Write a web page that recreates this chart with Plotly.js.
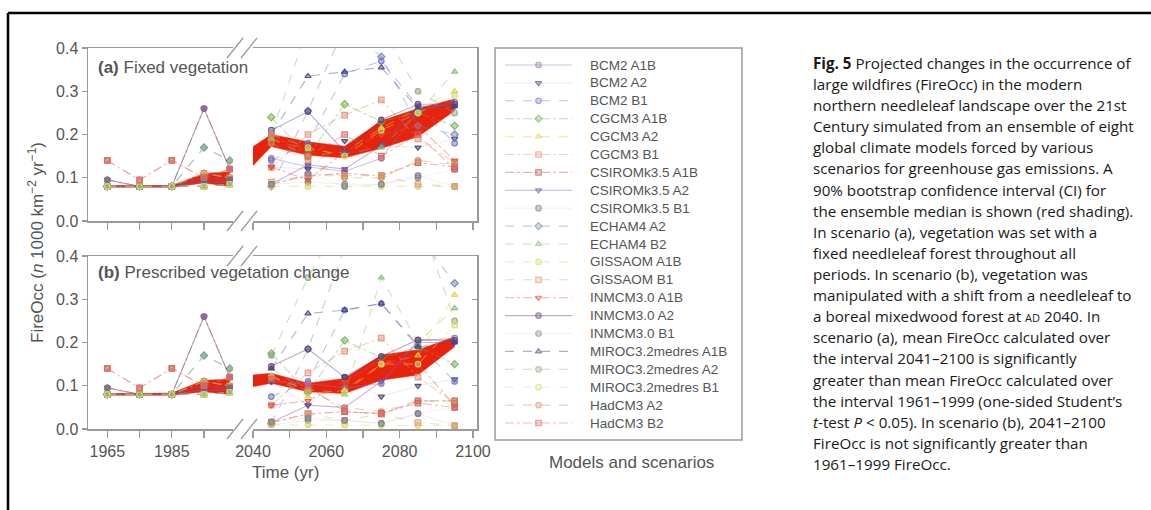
<!DOCTYPE html>
<html><head><meta charset="utf-8">
<script src="https://cdn.plot.ly/plotly-3.0.1.min.js"></script>
<style>html,body{margin:0;padding:0;background:#fff;}#chart{width:1151px;height:510px;}</style>
</head><body><div id="chart"></div>
<script>
// ---------------- DATA ----------------
const seriesNames = ["BCM2 A1B","BCM2 A2","BCM2 B1","CGCM3 A1B","CGCM3 A2","CGCM3 B1",
  "CSIROMk3.5 A1B","CSIROMk3.5 A2","CSIROMk3.5 B1","ECHAM4 A2","ECHAM4 B2",
  "GISSAOM A1B","GISSAOM B1","INMCM3.0 A1B","INMCM3.0 A2","INMCM3.0 B1",
  "MIROC3.2medres A1B","MIROC3.2medres A2","MIROC3.2medres B1","HadCM3 A2","HadCM3 B2"];

const histYears = [1965, 1975, 1985, 1995, 2003];
const futureYears = [2045, 2055, 2065, 2075, 2085, 2095];
const bandFutureYears = [2040, 2045, 2055, 2065, 2075, 2085, 2095];

// 1961-1999 values (same for both vegetation scenarios)
const histValues = [
  [0.080,0.080,0.080,0.090,0.090],
  [0.080,0.080,0.080,0.090,0.090],
  [0.080,0.080,0.080,0.090,0.090],
  [0.080,0.080,0.080,0.110,0.100],
  [0.080,0.080,0.080,0.110,0.100],
  [0.080,0.080,0.080,0.110,0.100],
  [0.080,0.080,0.080,0.100,0.095],
  [0.080,0.080,0.080,0.100,0.095],
  [0.080,0.080,0.080,0.100,0.095],
  [0.080,0.080,0.080,0.170,0.140],
  [0.080,0.080,0.080,0.170,0.140],
  [0.080,0.080,0.080,0.080,0.085],
  [0.080,0.080,0.080,0.080,0.085],
  [0.095,0.080,0.080,0.260,0.120],
  [0.095,0.080,0.080,0.260,0.120],
  [0.095,0.080,0.080,0.260,0.120],
  [0.080,0.080,0.080,0.080,0.085],
  [0.080,0.080,0.080,0.080,0.085],
  [0.080,0.080,0.080,0.080,0.085],
  [0.140,0.095,0.140,0.100,0.120],
  [0.140,0.095,0.140,0.100,0.120]
];

// (a) Fixed vegetation, 2041-2100
const fixedFuture = [
  [0.145,0.125,0.115,0.145,0.255,0.275],
  [0.125,0.120,0.185,0.175,0.170,0.190],
  [0.140,0.180,0.340,0.370,0.265,0.180],
  [0.240,0.150,0.270,0.230,0.250,0.220],
  [0.190,0.150,0.160,0.215,0.260,0.300],
  [0.124,0.200,0.245,0.280,0.190,0.135],
  [0.085,0.105,0.110,0.105,0.135,0.125],
  [0.085,0.130,0.120,0.175,0.265,0.265],
  [0.085,0.090,0.085,0.085,0.105,0.080],
  [0.080,0.255,0.450,0.380,0.220,0.200],
  [0.190,0.165,0.155,0.170,0.250,0.345],
  [0.080,0.080,0.080,0.080,0.080,0.080],
  [0.090,0.105,0.105,0.105,0.085,0.080],
  [0.125,0.095,0.160,0.200,0.220,0.140],
  [0.210,0.253,0.160,0.234,0.270,0.270],
  [0.085,0.110,0.080,0.085,0.100,0.120],
  [0.200,0.335,0.345,0.355,0.260,0.265],
  [0.200,0.450,0.500,0.450,0.300,0.250],
  [0.200,0.170,0.150,0.210,0.250,0.290],
  [0.180,0.140,0.100,0.100,0.140,0.130],
  [0.200,0.150,0.200,0.150,0.200,0.120]
];

// (b) Prescribed vegetation change, 2041-2100
const prescribedFuture = [
  [0.110,0.105,0.095,0.105,0.205,0.210],
  [0.110,0.055,0.120,0.075,0.100,0.115],
  [0.075,0.110,0.275,0.290,0.195,0.110],
  [0.175,0.085,0.205,0.165,0.190,0.150],
  [0.125,0.075,0.090,0.150,0.170,0.310],
  [0.055,0.130,0.180,0.210,0.120,0.060],
  [0.015,0.035,0.040,0.035,0.065,0.065],
  [0.015,0.055,0.050,0.110,0.200,0.200],
  [0.010,0.020,0.020,0.013,0.035,0.008],
  [0.012,0.185,0.420,0.500,0.450,0.337],
  [0.140,0.085,0.080,0.350,0.200,0.279],
  [0.010,0.010,0.009,0.008,0.008,0.008],
  [0.015,0.035,0.020,0.035,0.015,0.008],
  [0.055,0.065,0.110,0.160,0.150,0.055],
  [0.145,0.185,0.120,0.168,0.206,0.205],
  [0.017,0.025,0.020,0.013,0.036,0.050],
  [0.140,0.267,0.275,0.290,0.190,0.200],
  [0.170,0.350,0.500,0.550,0.500,0.250],
  [0.120,0.090,0.085,0.150,0.150,0.240],
  [0.120,0.090,0.050,0.040,0.065,0.065],
  [0.115,0.100,0.040,0.036,0.060,0.050]
];

// 90% bootstrap CI of the ensemble median
const bandHistLoA = [0.078,0.078,0.078,0.088,0.080];
const bandHistHiA = [0.082,0.082,0.082,0.110,0.114];
const bandFutLoA  = [0.128,0.172,0.152,0.146,0.168,0.195,0.255];
const bandFutHiA  = [0.172,0.200,0.183,0.173,0.232,0.260,0.282];
const bandHistLoB = [0.078,0.078,0.078,0.086,0.080];
const bandHistHiB = [0.082,0.082,0.083,0.113,0.115];
const bandFutLoB  = [0.098,0.106,0.086,0.082,0.113,0.125,0.190];
const bandFutHiB  = [0.125,0.129,0.106,0.117,0.171,0.183,0.213];

const histTickVals = [1965, 1985];
const histMinorVals = [1975, 1995];
const futTickVals = [2040, 2060, 2080, 2100];
const futMinorVals = [2050, 2070, 2090];
const yTickVals = [0, 0.1, 0.2, 0.3, 0.4];

const captionLines = [
  "<b>Fig. 5</b> Projected changes in the occurrence of",
  "large wildfires (FireOcc) in the modern",
  "northern needleleaf landscape over the 21st",
  "Century simulated from an ensemble of eight",
  "global climate models forced by various",
  "scenarios for greenhouse gas emissions. A",
  "90% bootstrap confidence interval (CI) for",
  "the ensemble median is shown (red shading).",
  "In scenario (a), vegetation was set with a",
  "fixed needleleaf forest throughout all",
  "periods. In scenario (b), vegetation was",
  "manipulated with a shift from a needleleaf to",
  "a boreal mixedwood forest at <span style=\"font-size:11px\">AD</span> 2040. In",
  "scenario (a), mean FireOcc calculated over",
  "the interval 2041–2100 is significantly",
  "greater than mean FireOcc calculated over",
  "the interval 1961–1999 (one-sided Student’s",
  "<i>t</i>-test <i>P</i> &lt; 0.05). In scenario (b), 2041–2100",
  "FireOcc is not significantly greater than",
  "1961–1999 FireOcc."
];

// ---------------- STYLE ----------------
const seriesStyle = [
  {c:[142,111,176], d:"solid",   s:"circle"},
  {c:[62,62,112],   d:"none",    s:"triangle-down"},
  {c:[110,110,200], d:"dash",    s:"circle"},
  {c:[111,176,79],  d:"dashdot", s:"diamond"},
  {c:[224,208,64],  d:"dash",    s:"triangle-up"},
  {c:[232,144,112], d:"dashdot", s:"square"},
  {c:[192,80,80],   d:"dashdot", s:"square"},
  {c:[112,80,168],  d:"solid",   s:"triangle-down"},
  {c:[112,112,128], d:"none",    s:"circle"},
  {c:[112,128,176], d:"dash",    s:"diamond"},
  {c:[128,192,112], d:"dash",    s:"triangle-up"},
  {c:[208,216,96],  d:"dash",    s:"circle"},
  {c:[224,160,112], d:"dash",    s:"square"},
  {c:[224,80,64],   d:"dashdot", s:"triangle-down"},
  {c:[96,64,128],   d:"solid",   s:"circle"},
  {c:[128,128,144], d:"none",    s:"circle"},
  {c:[64,64,136],   d:"dash",    s:"triangle-up"},
  {c:[144,168,120], d:"dash",    s:"circle"},
  {c:[208,224,112], d:"dash",    s:"circle"},
  {c:[208,144,96],  d:"dash",    s:"circle"},
  {c:[224,96,96],   d:"dashdot", s:"square"}
];
const W = 1151, H = 510;
const px = x => x / W;
const py = y => 1 - y / H;
const rgba = (c, a) => `rgba(${c[0]},${c[1]},${c[2]},${a})`;
const RED = "#e8230d";
const AXC = "#9a9a9a";
const TXT = "#555555";
const FONT = "Liberation Sans, Arial, Helvetica, sans-serif";

function lineStyle(st) {
  if (st.d === "none") return {color: rgba(st.c, 0.10), width: 1, dash: "solid"};
  return {color: rgba(st.c, 0.42), width: 1.1, dash: st.d};
}
function markerStyle(st) {
  return {symbol: st.s, size: 5.5, color: rgba(st.c, 0.45), line: {color: rgba(st.c, 0.85), width: 1.2}};
}

const traces = [];
function band(xs, lo, hi, xa, ya) {
  traces.push({x: xs, y: lo, xaxis: xa, yaxis: ya, mode: "lines", line: {width: 0.5, color: RED}, hoverinfo: "skip", showlegend: false});
  traces.push({x: xs, y: hi, xaxis: xa, yaxis: ya, mode: "lines", line: {width: 0.5, color: RED}, fill: "tonexty", fillcolor: RED, hoverinfo: "skip", showlegend: false});
}
band(histYears, bandHistLoA, bandHistHiA, "x", "y");
band(bandFutureYears, bandFutLoA, bandFutHiA, "x2", "y2");
band(histYears, bandHistLoB, bandHistHiB, "x3", "y3");
band(bandFutureYears, bandFutLoB, bandFutHiB, "x4", "y4");

seriesNames.forEach((name, i) => {
  const st = seriesStyle[i];
  const common = {mode: "lines+markers", line: lineStyle(st), marker: markerStyle(st), name: name, showlegend: false, cliponaxis: true};
  traces.push(Object.assign({x: histYears, y: histValues[i], xaxis: "x", yaxis: "y"}, common));
  traces.push(Object.assign({x: futureYears, y: fixedFuture[i], xaxis: "x2", yaxis: "y2"}, common));
  traces.push(Object.assign({x: histYears, y: histValues[i], xaxis: "x3", yaxis: "y3"}, common));
  traces.push(Object.assign({x: futureYears, y: prescribedFuture[i], xaxis: "x4", yaxis: "y4"}, common));
  // legend sample (line with a marker in the middle)
  traces.push({x: [0, 0.5, 1], y: [i, i, i], xaxis: "x5", yaxis: "y5", mode: "lines+markers",
    line: lineStyle(st), marker: Object.assign(markerStyle(st), {size: [0, 5.5, 0]}),
    hoverinfo: "skip", showlegend: false});
});

// ---------------- AXES ----------------
const panelA = [py(221), py(48)];
const panelB = [py(429), py(256)];
const leftDom = [px(88), px(233)];
const rightDom = [px(253), px(477)];
function xAxis(dom, range, tv, mv, labels, anchor) {
  return {domain: dom, range: range, anchor: anchor, tickmode: "array", tickvals: tv,
    showticklabels: labels, ticks: "outside", ticklen: 7, tickwidth: 1.2, tickcolor: AXC,
    minor: {tickmode: "array", tickvals: mv, ticks: "outside", ticklen: 7, tickwidth: 1.2, tickcolor: AXC, showgrid: false},
    showline: true, linecolor: AXC, linewidth: 1.5, mirror: true, showgrid: false, zeroline: false,
    tickfont: {size: 16, color: TXT, family: FONT}, fixedrange: true};
}
function yAxis(dom, anchor, right) {
  const ax = {domain: dom, range: [0, 0.4], anchor: anchor, side: right ? "right" : "left",
    tickmode: "array", tickvals: right ? yTickVals.slice(1, 4) : yTickVals, tickformat: ".1f",
    showticklabels: !right, ticks: right ? "inside" : "outside", ticklen: 5, tickwidth: 1.2, tickcolor: AXC,
    showline: true, linecolor: AXC, linewidth: 1.5, mirror: false, showgrid: false, zeroline: false,
    tickfont: {size: 16, color: TXT, family: FONT}, fixedrange: true};
  return ax;
}

// legend rows
const legTop = 48, legBottom = 440, rowStep = 17.9, firstRow = 65;
const ySpan = (legBottom - legTop) / rowStep;
const yTopVal = -(firstRow - legTop) / rowStep;

const layout = {
  width: W, height: H, margin: {l: 0, r: 0, t: 0, b: 0},
  paper_bgcolor: "#ffffff", plot_bgcolor: "rgba(0,0,0,0)", showlegend: false,
  font: {family: FONT, color: TXT},
  xaxis: xAxis(leftDom, [1959, 2004], histTickVals, histMinorVals, false, "y"),
  xaxis2: xAxis(rightDom, [2040, 2101.1], futTickVals, futMinorVals, false, "y2"),
  xaxis3: xAxis(leftDom, [1959, 2004], histTickVals, histMinorVals, true, "y3"),
  xaxis4: xAxis(rightDom, [2040, 2101.1], futTickVals, futMinorVals, true, "y4"),
  yaxis: yAxis(panelA, "x", false),
  yaxis2: yAxis(panelA, "x2", true),
  yaxis3: yAxis(panelB, "x3", false),
  yaxis4: yAxis(panelB, "x4", true),
  xaxis5: {domain: [px(505), px(572)], range: [0, 1], anchor: "y5", visible: false, fixedrange: true},
  yaxis5: {domain: [py(legBottom), py(legTop)], range: [yTopVal + ySpan, yTopVal], anchor: "x5", visible: false, fixedrange: true},
  shapes: [], annotations: []
};

// frame
layout.shapes.push({type: "line", xref: "paper", yref: "paper", x0: px(8), x1: 1, y0: py(13), y1: py(13), line: {color: "#000", width: 2.5}});
layout.shapes.push({type: "line", xref: "paper", yref: "paper", x0: px(8), x1: px(8), y0: py(13), y1: 0, line: {color: "#000", width: 2.5}});
// legend box
layout.shapes.push({type: "rect", xref: "paper", yref: "paper", x0: px(495), x1: px(742), y0: py(440), y1: py(48), line: {color: AXC, width: 1.5}});
// axis break marks
[48, 221, 256, 429].forEach(yl => {
  [235, 249].forEach(xc => {
    layout.shapes.push({type: "line", xref: "paper", yref: "paper",
      x0: px(xc - 8), y0: py(yl + 10), x1: px(xc + 8), y1: py(yl - 10), line: {color: AXC, width: 1.3}});
  });
});

// panel labels and titles
const ann = layout.annotations;
ann.push({xref: "paper", yref: "paper", x: px(96), y: py(68), xanchor: "left", yanchor: "middle", showarrow: false,
  text: "<b>(a)</b> Fixed vegetation", font: {size: 17, color: TXT, family: FONT}});
ann.push({xref: "paper", yref: "paper", x: px(96), y: py(272), xanchor: "left", yanchor: "middle", showarrow: false,
  text: "<b>(b)</b> Prescribed vegetation change", font: {size: 17, color: TXT, family: FONT}});
ann.push({xref: "paper", yref: "paper", x: px(36), y: py(243), xanchor: "center", yanchor: "middle", showarrow: false, textangle: -90,
  text: "FireOcc (<i>n</i> 1000 km<sup>−2</sup> yr<sup>−1</sup>)", font: {size: 17, color: TXT, family: FONT}});
ann.push({xref: "paper", yref: "paper", x: px(285), y: py(472), xanchor: "center", yanchor: "middle", showarrow: false,
  text: "Time (yr)", font: {size: 17, color: TXT, family: FONT}});
ann.push({xref: "paper", yref: "paper", x: px(631), y: py(462), xanchor: "center", yanchor: "middle", showarrow: false,
  text: "Models and scenarios", font: {size: 17, color: TXT, family: FONT}});
// legend labels
seriesNames.forEach((name, i) => {
  ann.push({xref: "paper", yref: "y5", x: px(588), y: i, xanchor: "left", yanchor: "middle", showarrow: false,
    text: name, font: {size: 13.5, color: TXT, family: FONT}});
});
// caption
captionLines.forEach((line, i) => {
  ann.push({xref: "paper", yref: "paper", x: px(811), y: py(63 + i * 21.1), xanchor: "left", yanchor: "middle", showarrow: false,
    text: line, font: {size: 15.2, color: "#1a1a1a", family: "Open Sans, Noto Sans, sans-serif"}});
});

Plotly.newPlot("chart", traces, layout, {staticPlot: true, displayModeBar: false});
</script>
</body></html>
